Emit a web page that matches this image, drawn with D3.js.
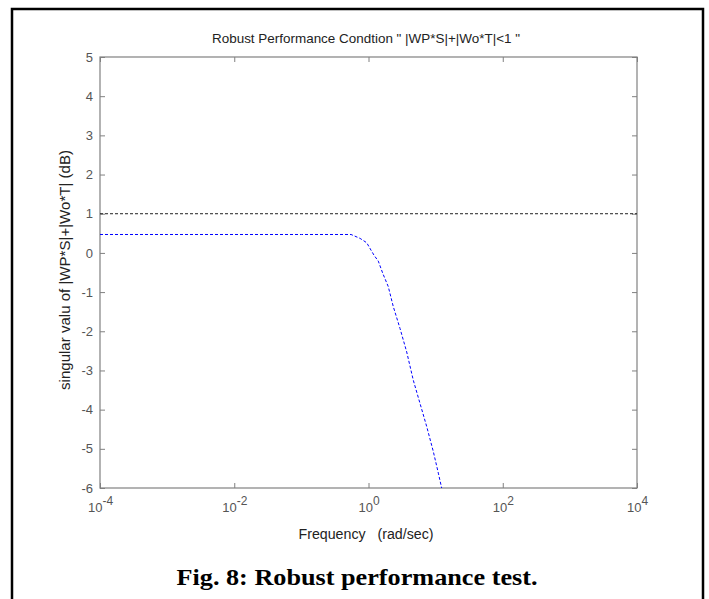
<!DOCTYPE html>
<html>
<head>
<meta charset="utf-8">
<script src="https://cdn.jsdelivr.net/npm/d3@7"></script>
<style>
  body { margin: 0; background: #fff; }
  svg { display: block; font-family: "Liberation Sans", Arial, sans-serif; }
</style>
</head>
<body>
<div id="chart-area"></div>
<script>
// data
var freq = [0.0001, 0.001, 0.01, 0.1, 0.3, 0.55, 0.75, 0.94, 1.09, 1.21, 1.40, 1.63, 1.97, 2.34, 2.95, 3.71, 4.65, 5.85, 7.36, 9.24, 10.97, 12.3];
var perfDb = [0.47, 0.47, 0.47, 0.47, 0.47, 0.47, 0.37, 0.26, 0.07, -0.06, -0.21, -0.52, -0.86, -1.37, -1.93, -2.53, -3.25, -3.84, -4.43, -5.07, -5.62, -6.0];
var boundDb = [1, 1];
var boundFreq = [0.0001, 10000];
var xTicks = [0.0001, 0.01, 1, 100, 10000];
var yTicks = [-6, -5, -4, -3, -2, -1, 0, 1, 2, 3, 4, 5];

var W = 709, H = 599;
var margin = { left: 100, right: 72, top: 57, bottom: 111 };
var width = W - margin.left - margin.right,
    height = H - margin.top - margin.bottom;

var svg = d3.select("#chart-area")
    .append("svg")
    .attr("width", W)
    .attr("height", H);

// outer frame of the figure
svg.append("path")
    .attr("d", "M12,610 L12,9 L703,9 L703,610")
    .attr("fill", "none")
    .attr("stroke", "#000")
    .attr("stroke-width", 2.5);

var g = svg.append("g")
    .attr("transform", "translate(" + margin.left + ", " + margin.top + ")");

var x = d3.scaleLog().domain([1e-4, 1e4]).range([0, width]);
var y = d3.scaleLinear().domain([-6, 5]).range([height, 0]);

var axisColor = "#808080", labelColor = "#555";

function styleAxis(sel) {
    sel.select(".domain").remove();
    sel.selectAll(".tick line").attr("stroke", axisColor);
    sel.selectAll(".tick text").attr("fill", labelColor).style("font-size", "13px");
}

// bottom axis with 10^n labels
var xAxisG = g.append("g")
    .attr("transform", "translate(0," + height + ")")
    .call(d3.axisBottom(x).tickValues(xTicks).tickSize(-5).tickPadding(15).tickFormat(""))
    .call(styleAxis);
xAxisG.selectAll(".tick text").each(function(d) {
    var t = d3.select(this);
    t.text(null);
    t.append("tspan").text("10");
    t.append("tspan").attr("dy", "-0.6em").style("font-size", "12px").text(Math.round(Math.log10(d)));
});

g.append("g")
    .call(d3.axisTop(x).tickValues(xTicks).tickSize(-5).tickFormat(""))
    .call(styleAxis);

g.append("g")
    .call(d3.axisLeft(y).tickValues(yTicks).tickSize(-5).tickPadding(7)
        .tickFormat(function(d) { return String(d); }))
    .call(styleAxis);

g.append("g")
    .attr("transform", "translate(" + width + ",0)")
    .call(d3.axisRight(y).tickValues(yTicks).tickSize(-5).tickFormat(""))
    .call(styleAxis);

// box
g.append("rect")
    .attr("width", width)
    .attr("height", height)
    .attr("fill", "none")
    .attr("stroke", axisColor)
    .attr("stroke-width", 1.2);

var line = d3.line()
    .x(function(d) { return x(d[0]); })
    .y(function(d) { return y(d[1]); });

g.append("path")
    .datum(d3.zip(boundFreq, boundDb))
    .attr("d", line)
    .attr("fill", "none")
    .attr("stroke", "#222")
    .attr("stroke-width", 1)
    .attr("stroke-dasharray", "3,2");

g.append("path")
    .datum(d3.zip(freq, perfDb))
    .attr("d", line)
    .attr("fill", "none")
    .attr("stroke", "#0000ff")
    .attr("stroke-width", 1)
    .attr("stroke-dasharray", "3,2");

// texts
svg.append("text")
    .attr("x", 366)
    .attr("y", 43)
    .attr("text-anchor", "middle")
    .attr("fill", "#222")
    .style("font-size", "13.5px")
    .attr("textLength", 308)
    .attr("lengthAdjust", "spacingAndGlyphs")
    .text("Robust  Performance Condtion \" |WP*S|+|Wo*T|<1 \"");

svg.append("text")
    .attr("x", 366)
    .attr("y", 539)
    .attr("text-anchor", "middle")
    .attr("fill", "#222")
    .style("font-size", "14px")
    .attr("xml:space", "preserve")
    .attr("textLength", 135)
    .attr("lengthAdjust", "spacingAndGlyphs")
    .text("Frequency   (rad/sec)");

svg.append("text")
    .attr("transform", "translate(70,270) rotate(-90)")
    .attr("text-anchor", "middle")
    .attr("fill", "#222")
    .style("font-size", "14px")
    .attr("textLength", 240)
    .attr("lengthAdjust", "spacingAndGlyphs")
    .text("singular valu of |WP*S|+|Wo*T| (dB)");

svg.append("text")
    .attr("x", 357)
    .attr("y", 585)
    .attr("text-anchor", "middle")
    .attr("fill", "#000")
    .style("font-family", "'Liberation Serif', 'DejaVu Serif', serif")
    .style("font-weight", "bold")
    .style("font-size", "24px")
    .attr("textLength", 361)
    .attr("lengthAdjust", "spacingAndGlyphs")
    .text("Fig. 8: Robust performance test.");
</script>
</body>
</html>
